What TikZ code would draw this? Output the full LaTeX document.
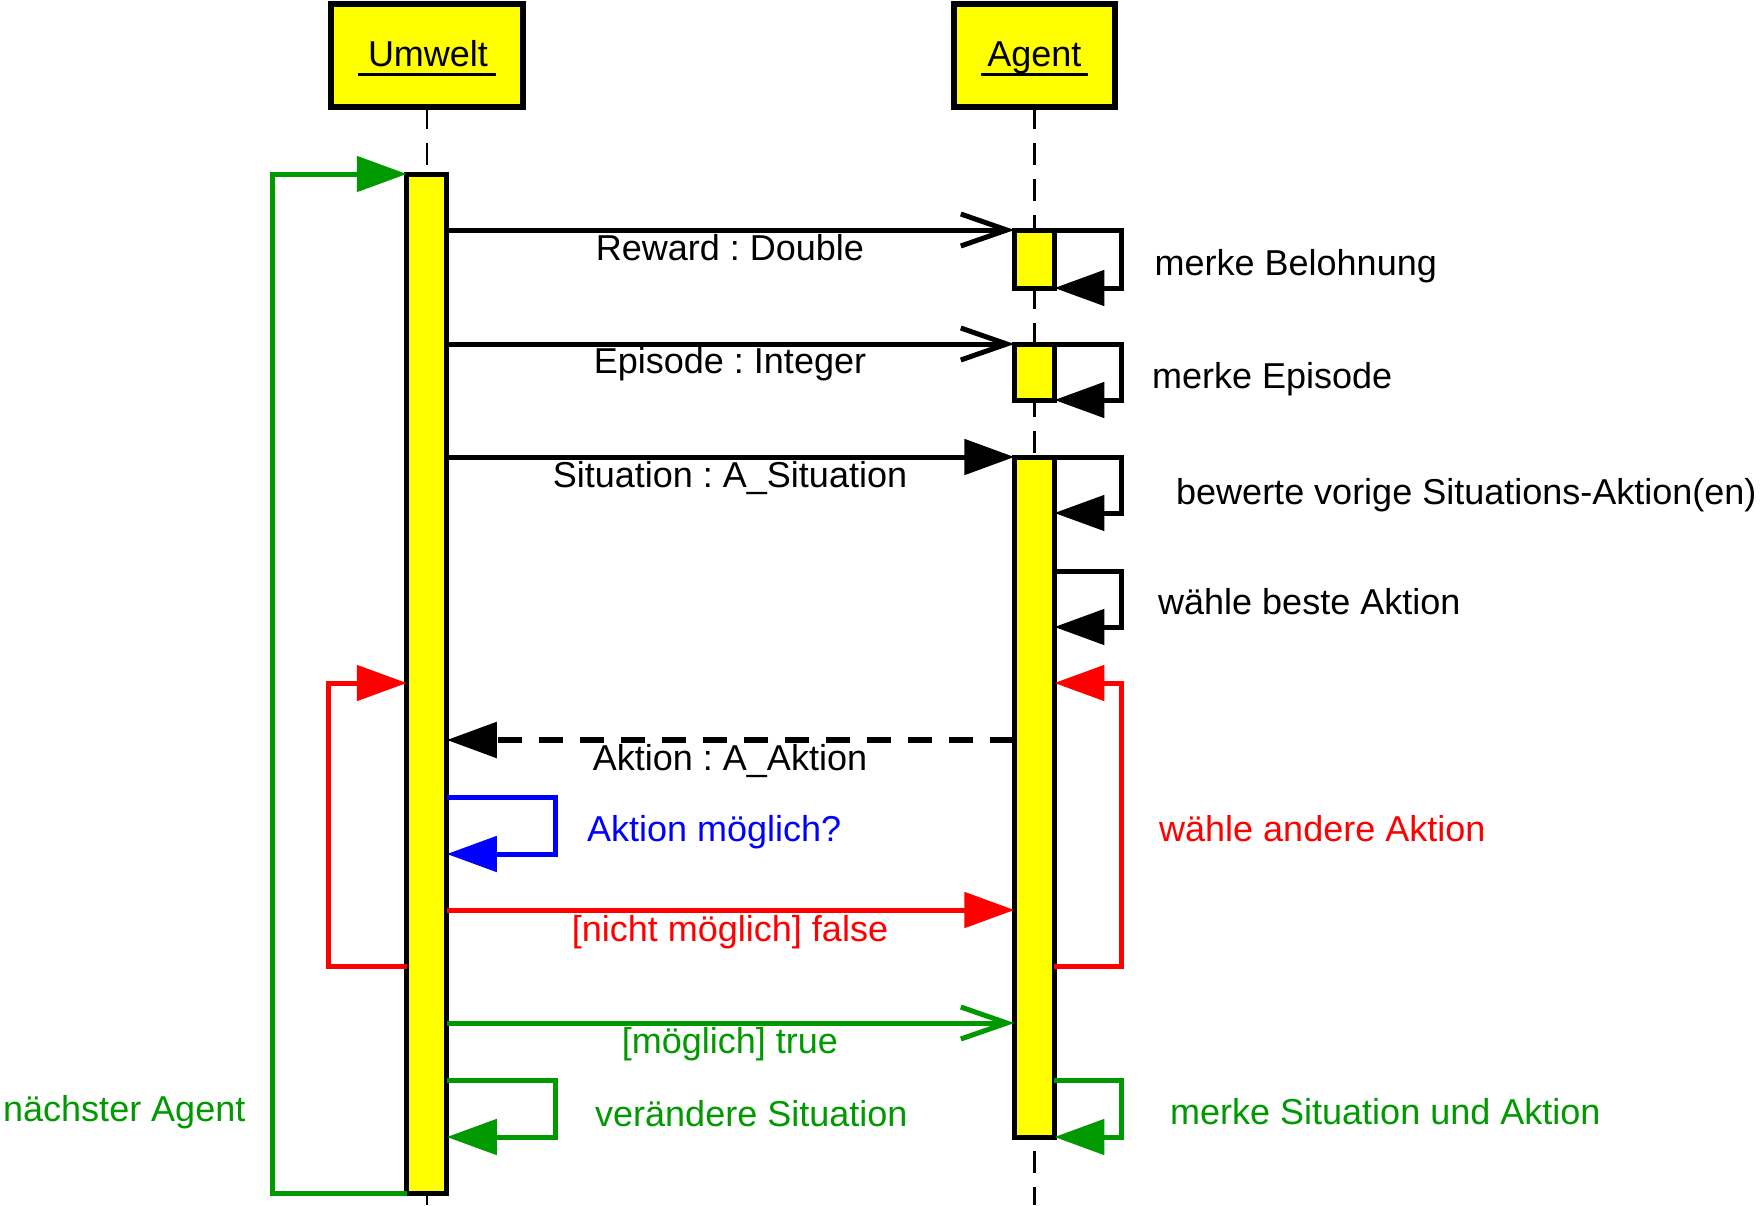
\documentclass[tikz,border=0pt]{standalone}
\usepackage{fontspec}
\setmainfont{Liberation Sans}
\usetikzlibrary{arrows.meta,calc}
\definecolor{ugreen}{RGB}{0,153,0}
\definecolor{uyellow}{RGB}{255,255,0}
\frenchspacing
\begin{document}
\begin{tikzpicture}[x=1pt,y=-1pt,
  txt/.style={inner sep=0pt, font=\fontsize{36pt}{40pt}\selectfont},
  headbox/.style={draw, fill=uyellow, line width=6pt, minimum width=#1, minimum height=103pt, inner sep=0pt, outer sep=0pt},
  actbar/.style={draw, fill=uyellow, line width=5pt, minimum width=40pt, minimum height=#1, inner sep=0pt, outer sep=0pt},
  lifeline/.style={line width=2.6pt, dash pattern=on 22pt off 14pt},
  msgline/.style={line width=5pt},
  fillhead/.style={-{Triangle[length=50pt,width=35pt]}},
  openhead/.style={-{Straight Barb[length=46pt,width=32pt]}},
]
\useasboundingbox (0,0) rectangle (1761,1205);
% header boxes
\node[headbox=192pt] (uh) at (427,55) {};
\node[headbox=161pt] (ah) at (1034.4,55) {};
\node[txt, anchor=base] (ut) at (428,66) {Umwelt};
\node[txt, anchor=base] (at) at (1034.4,66) {Agent};
\draw[line width=3pt] ([xshift=-10pt,yshift=-8pt]ut.base west) -- ([xshift=8pt,yshift=-8pt]ut.base east);
\draw[line width=3pt] ([xshift=-6pt,yshift=-8pt]at.base west) -- ([xshift=6pt,yshift=-8pt]at.base east);
% lifelines
\coordinate (uend) at (427,1205);
\coordinate (aend) at (1034.4,1205);
\draw[lifeline] (uh.south) -- (uend);
\draw[lifeline] (ah.south) -- (aend);
% activation bars
\node[actbar=1019pt] (ubar) at (426.8,683.5) {};
\node[actbar=58pt] (ab1) at (1034.4,259) {};
\node[actbar=56pt] (ab2) at (1034.4,372) {};
\node[actbar=680pt] (ab3) at (1034.4,797) {};
% y levels
\coordinate (y513) at (0,513);
\coordinate (y571) at (0,571);
\coordinate (y627) at (0,627);
\coordinate (y683) at (0,683);
\coordinate (y740) at (0,740);
\coordinate (y797) at (0,797);
\coordinate (y854) at (0,854);
\coordinate (y910) at (0,910);
\coordinate (y966) at (0,966);
\coordinate (y1023) at (0,1023);
\coordinate (y1080) at (0,1080);
\coordinate (y1137) at (0,1137);
% black messages
\draw[msgline, openhead] (ubar.east |- ab1.north) -- (ab1.north west);
\draw[msgline, fillhead] (ab1.north east) -- ++(67,0) |- (ab1.south east);
\draw[msgline, openhead] (ubar.east |- ab2.north) -- (ab2.north west);
\draw[msgline, fillhead] (ab2.north east) -- ++(67,0) |- (ab2.south east);
\draw[msgline, fillhead] (ubar.east |- ab3.north) -- (ab3.north west);
\draw[msgline, fillhead] (ab3.north east) -- ++(67,0) |- (ab3.east |- y513);
\draw[msgline, fillhead] (ab3.east |- y571) -- ++(67,0) |- (ab3.east |- y627);
\draw[line width=5.5pt, dash pattern=on 24pt off 17pt, fillhead] (ab3.west |- y740) -- (ubar.east |- y740);
% blue self call
\draw[msgline, blue, fillhead] (ubar.east |- y797) -- ++(109,0) |- (ubar.east |- y854);
% red
\draw[msgline, red, fillhead] (ubar.east |- y910) -- (ab3.west |- y910);
\draw[msgline, red, fillhead] (ubar.west |- y966) -- ++(-78,0) |- (ubar.west |- y683);
\draw[msgline, red, fillhead] (ab3.east |- y966) -- ++(67,0) |- (ab3.east |- y683);
% green
\draw[msgline, ugreen, openhead] (ubar.east |- y1023) -- (ab3.west |- y1023);
\draw[msgline, ugreen, fillhead] (ubar.east |- y1080) -- ++(109,0) |- (ubar.east |- y1137);
\draw[msgline, ugreen, fillhead] (ab3.east |- y1080) -- ++(67,0) |- (ab3.south east);
\draw[msgline, ugreen, fillhead] (ubar.south west) -- ++(-134,0) |- (ubar.north west);
% labels
\node[txt, anchor=base] (l1) at (730,260) {Reward : Double};
\node[txt, anchor=base] (l2) at (730,373) {Episode : Integer};
\node[txt, anchor=base] (l3) at (730,487) {Situation : A\_Situation};
\node[txt, anchor=base] (l4) at (730,770) {Aktion : A\_Aktion};
\node[txt, anchor=base west, blue] (l5) at (587,841) {Aktion möglich?};
\node[txt, anchor=base, red] (l6) at (730,941) {[nicht möglich] false};
\node[txt, anchor=base, ugreen] (l7) at (730,1053) {[möglich] true};
\node[txt, anchor=base west, ugreen] (l8) at (595,1126) {verändere Situation};
\node[txt, anchor=base west, ugreen] (l9) at (3,1121) {nächster Agent};
\node[txt, anchor=base west] (r1) at (1154.5,275) {merke Belohnung};
\node[txt, anchor=base west] (r2) at (1152,388) {merke Episode};
\node[txt, anchor=base west] (r3) at (1176,504) {bewerte vorige Situations-Aktion(en)};
\node[txt, anchor=base west] (r4) at (1158,614) {wähle beste Aktion};
\node[txt, anchor=base west, red] (r5) at (1159,841) {wähle andere Aktion};
\node[txt, anchor=base west, ugreen] (r6) at (1170,1124) {merke Situation und Aktion};
\end{tikzpicture}
\end{document}
